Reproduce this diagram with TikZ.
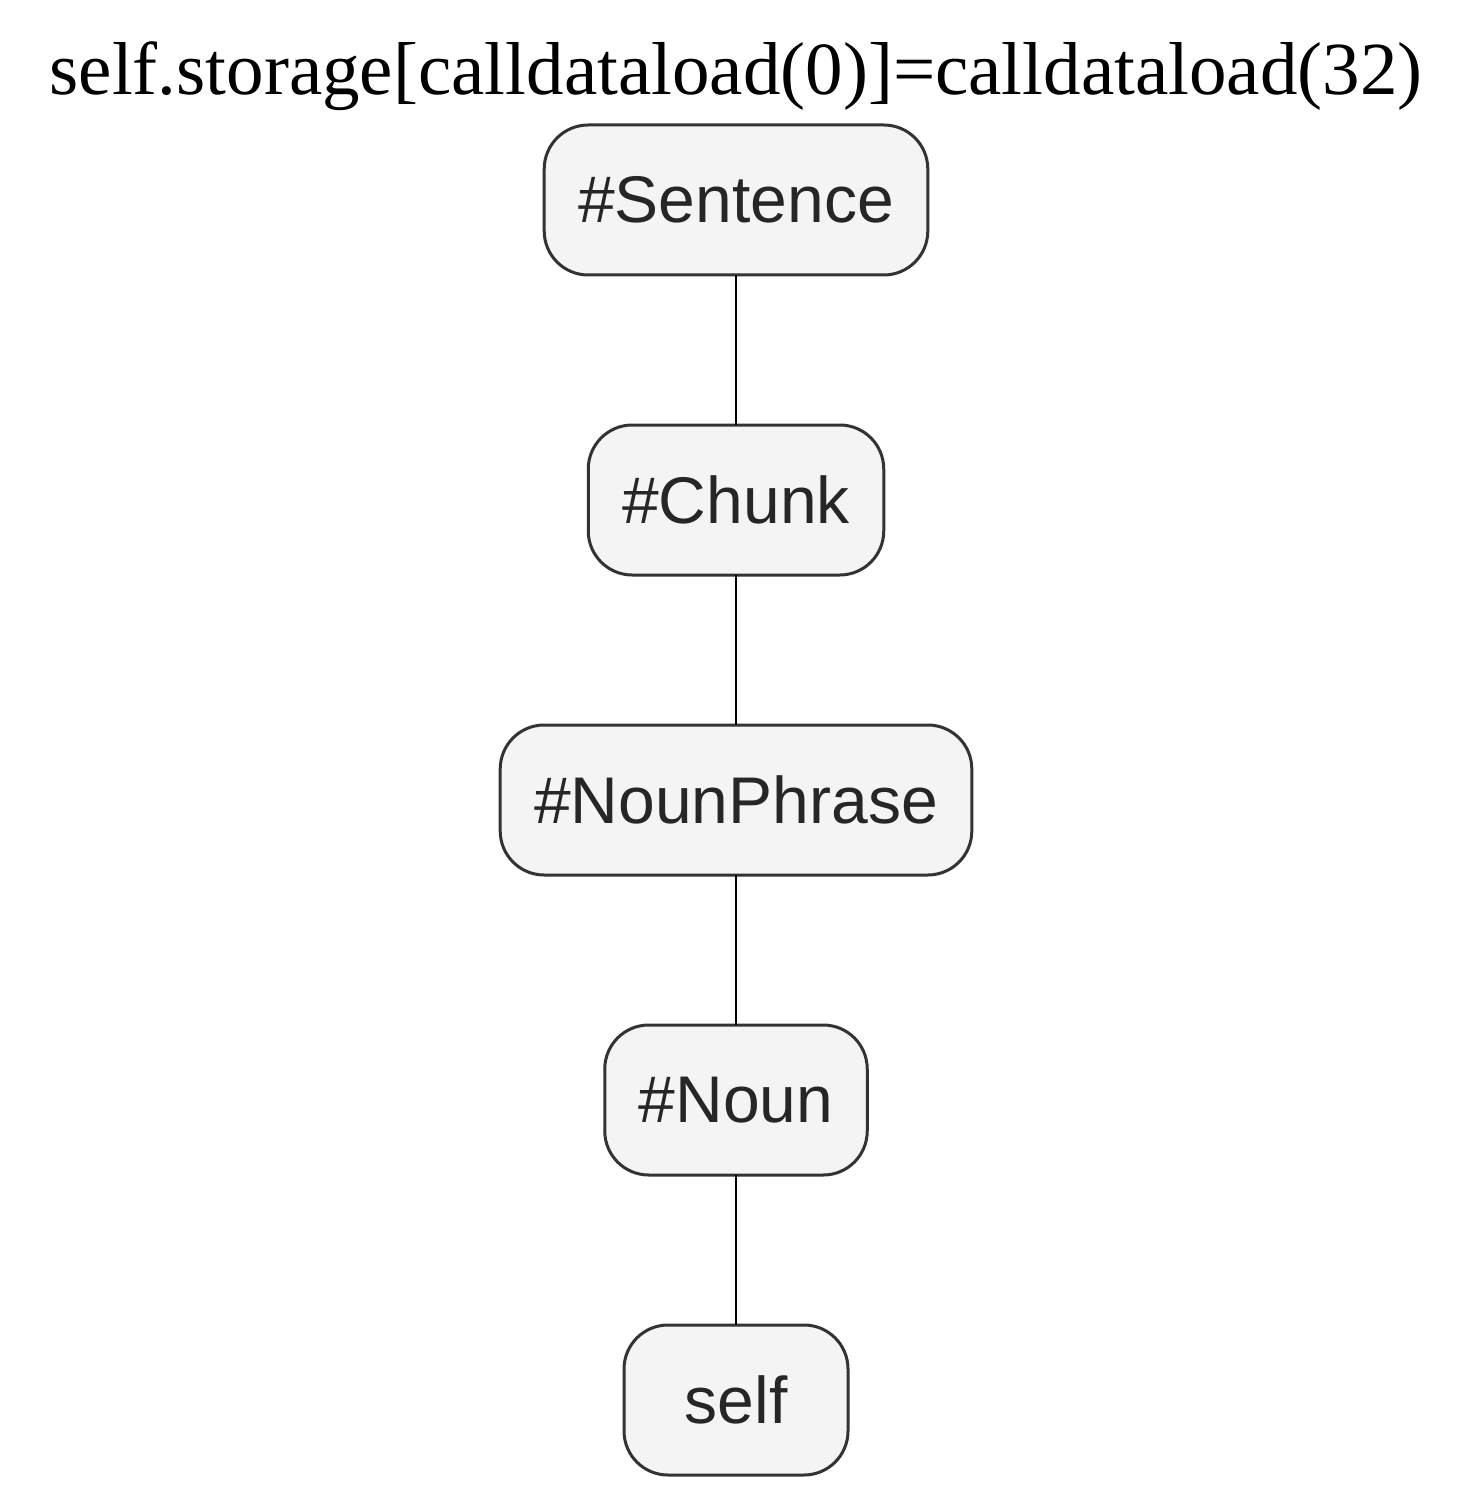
\documentclass[tikz,border=0pt]{standalone}
\usepackage{fontspec}
\setmainfont{Liberation Serif}
\newfontfamily\nodefont{Liberation Sans}
\usetikzlibrary{positioning}
\definecolor{boxfill}{HTML}{F4F4F4}
\definecolor{boxline}{HTML}{333333}
\begin{document}
\begin{tikzpicture}
[word/.style={rectangle,rounded corners=22pt,draw=boxline,fill=boxfill,line width=1.5pt,
outer sep=0pt,minimum height=75pt,minimum width=112pt,inner xsep=17pt,
font=\nodefont\fontsize{33}{36}\selectfont,text=black!85},
link/.style={line width=1pt,black}]
       \useasboundingbox (0,0) rectangle (736.5pt,-746pt);
       \node (title) at (368pt,-47.5pt) [anchor=base,font=\fontsize{37.5}{42}\selectfont]
             {self.storage[calldataload(0)]=calldataload(32)};
       \node (sentence) at (368pt,-100pt) [word] {\#Sentence};
       \node (chunk) [word,below=75pt of sentence] {\#Chunk};
       \node (nounphrase) [word,below=75pt of chunk] {\#NounPhrase};
       \node (noun) [word,below=75pt of nounphrase] {\#Noun};
       \node (self) [word,below=75pt of noun] {self};
       \draw[link] (sentence) -- (chunk);
       \draw[link] (chunk) -- (nounphrase);
       \draw[link] (nounphrase) -- (noun);
       \draw[link] (noun) -- (self);
    \end{tikzpicture}
\end{document}
